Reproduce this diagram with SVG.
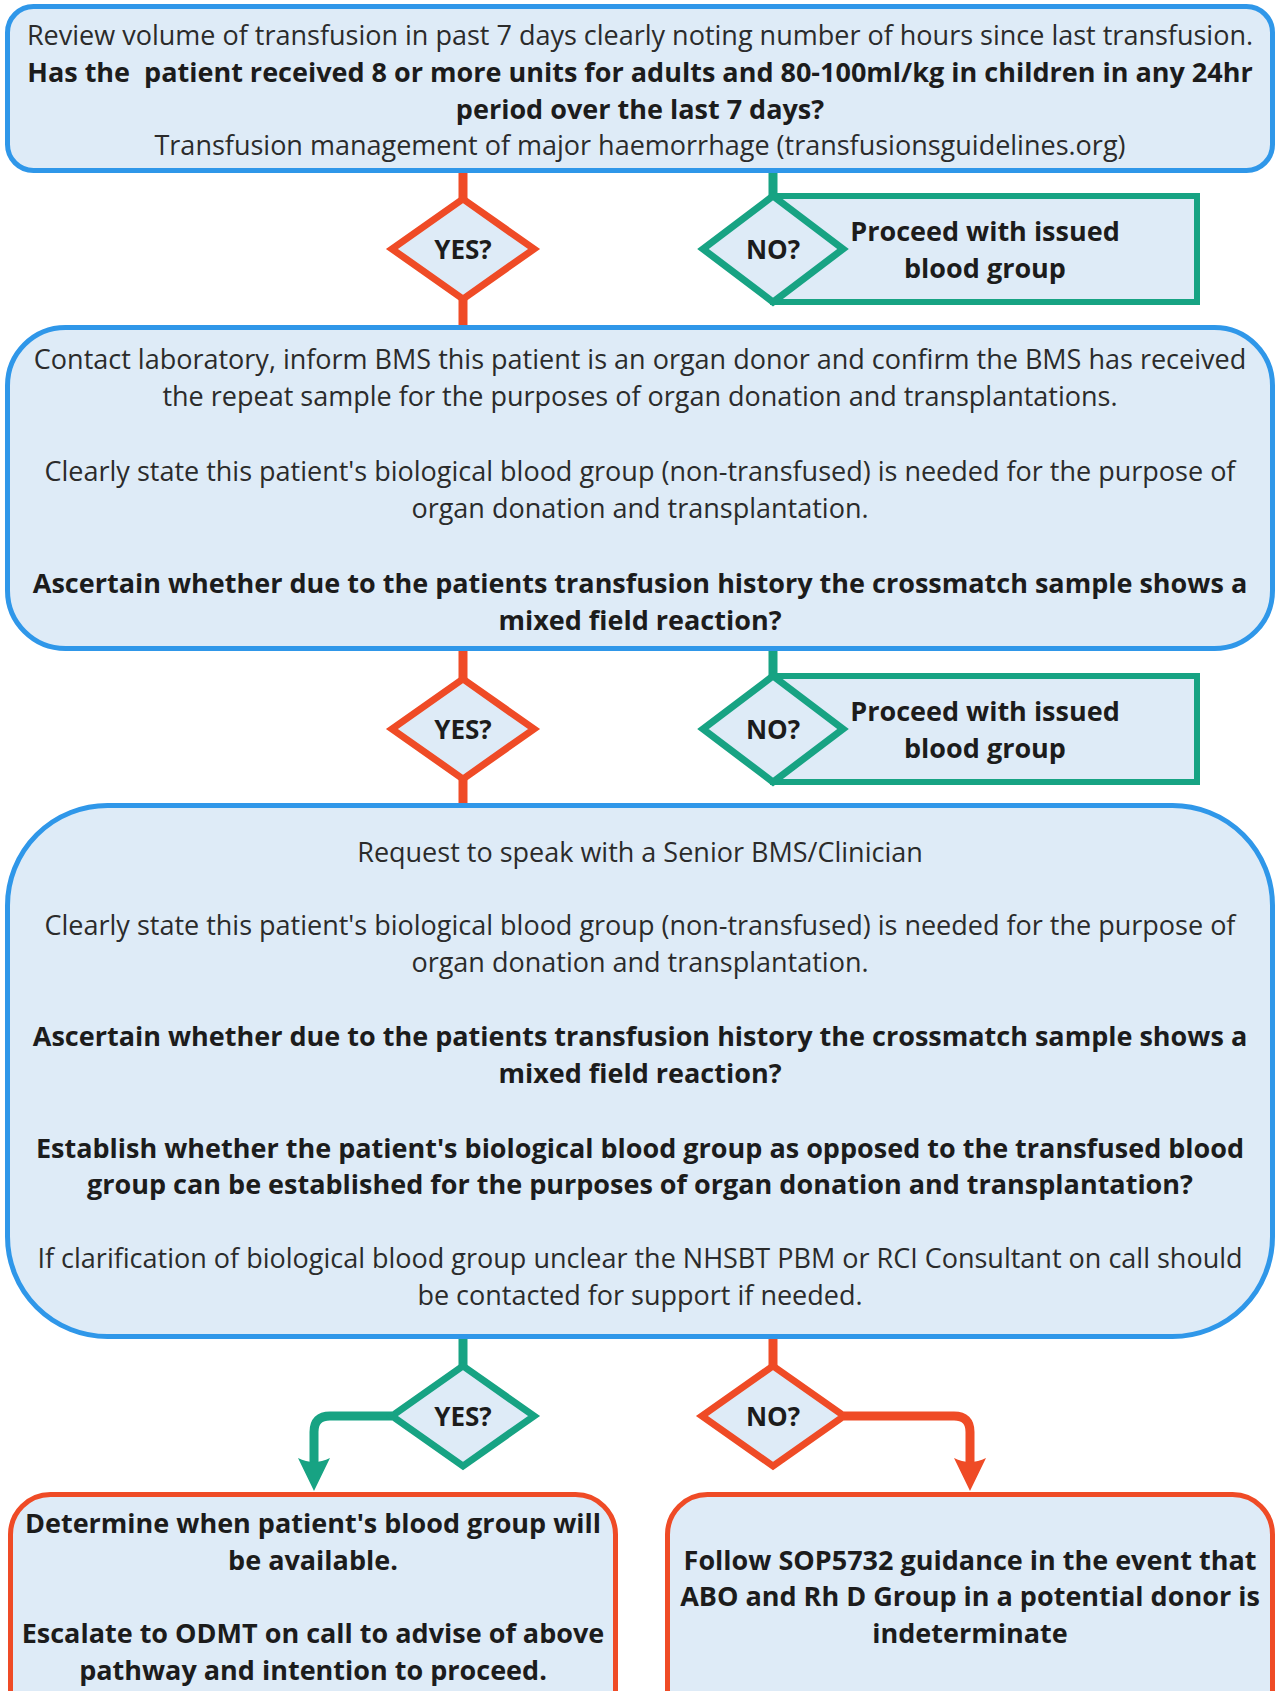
<svg xmlns="http://www.w3.org/2000/svg" width="1277" height="1691" viewBox="0 0 1277 1691">
<style>
.box{fill:#deebf7;stroke:#2f97e9;stroke-width:5}
.rbox{fill:#deebf7;stroke:#ef4b26;stroke-width:5}
.gbox{fill:#deebf7;stroke:#17a383;stroke-width:6}
.rd{fill:#deebf7;stroke:#ef4b26;stroke-width:7;stroke-linejoin:miter}
.gd{fill:#deebf7;stroke:#17a383;stroke-width:7;stroke-linejoin:miter}
.rl{stroke:#ef4b26;stroke-width:9;fill:none}
.gl{stroke:#17a383;stroke-width:9;fill:none}
.ra{fill:#ef4b26}
.ga{fill:#17a383}
text{font-family:"Open Sans","Noto Sans","DejaVu Sans",sans-serif;font-size:27px;fill:#2b2b2b;text-anchor:middle}
.b{font-weight:bold;fill:#1c1c1c}
.d{font-size:26px}
</style>
<g id="connectors">
<line class="rl" x1="463" y1="172" x2="463" y2="200"/>
<line class="gl" x1="773" y1="172" x2="773" y2="198"/>
<line class="rl" x1="463" y1="298" x2="463" y2="327"/>
<line class="rl" x1="463" y1="650" x2="463" y2="680"/>
<line class="gl" x1="773" y1="650" x2="773" y2="678"/>
<line class="rl" x1="463" y1="778" x2="463" y2="806"/>
<line class="gl" x1="463" y1="1337" x2="463" y2="1366"/>
<line class="rl" x1="773" y1="1337" x2="773" y2="1366"/>
<path class="gl" d="M392 1416 H330 Q314 1416 314 1432 V1468" stroke-width="8"/>
<path class="ga" d="M314 1491 L298 1458 Q314 1466 330 1458 Z"/>
<path class="rl" d="M844 1416 H954 Q970 1416 970 1432 V1468" stroke-width="8"/>
<path class="ra" d="M970 1491 L954 1458 Q970 1466 986 1458 Z"/>
</g>
<g id="box1">
<rect class="box" x="7.5" y="6.5" width="1265" height="164" rx="26"/>
<text x="640" y="45">Review volume of transfusion in past 7 days clearly noting number of hours since last transfusion.</text>
<text class="b" x="640" y="82" xml:space="preserve">Has the  patient received 8 or more units for adults and 80-100ml/kg in children in any 24hr</text>
<text class="b" x="640" y="119">period over the last 7 days?</text>
<text x="640" y="155">Transfusion management of major haemorrhage (transfusionsguidelines.org)</text>
</g>
<g id="yes1">
<path class="rd" d="M463 199 L534 249 L463 299 L392 249 Z"/>
<text class="b d" x="463" y="259">YES?</text>
</g>
<g id="no1">
<rect class="gbox" x="773" y="196" width="424" height="106"/>
<path class="gd" d="M773 196 L843 249 L773 302 L703 249 Z"/>
<text class="b d" x="773" y="259">NO?</text>
<text class="b" x="985" y="241">Proceed with issued</text>
<text class="b" x="985" y="278">blood group</text>
</g>
<g id="box2">
<rect class="box" x="7.5" y="327.5" width="1265" height="321" rx="58"/>
<text x="640" y="369">Contact laboratory, inform BMS this patient is an organ donor and confirm the BMS has received</text>
<text x="640" y="406">the repeat sample for the purposes of organ donation and transplantations.</text>
<text x="640" y="481">Clearly state this patient's biological blood group (non-transfused) is needed for the purpose of</text>
<text x="640" y="518">organ donation and transplantation.</text>
<text class="b" x="640" y="593">Ascertain whether due to the patients transfusion history the crossmatch sample shows a</text>
<text class="b" x="640" y="630">mixed field reaction?</text>
</g>
<g id="yes2">
<path class="rd" d="M463 679 L534 729 L463 779 L392 729 Z"/>
<text class="b d" x="463" y="739">YES?</text>
</g>
<g id="no2">
<rect class="gbox" x="773" y="676" width="424" height="106"/>
<path class="gd" d="M773 676 L843 729 L773 782 L703 729 Z"/>
<text class="b d" x="773" y="739">NO?</text>
<text class="b" x="985" y="721">Proceed with issued</text>
<text class="b" x="985" y="758">blood group</text>
</g>
<g id="box3">
<rect class="box" x="7.5" y="805.5" width="1265" height="531" rx="100"/>
<text x="640" y="862">Request to speak with a Senior BMS/Clinician</text>
<text x="640" y="935">Clearly state this patient's biological blood group (non-transfused) is needed for the purpose of</text>
<text x="640" y="972">organ donation and transplantation.</text>
<text class="b" x="640" y="1046">Ascertain whether due to the patients transfusion history the crossmatch sample shows a</text>
<text class="b" x="640" y="1083">mixed field reaction?</text>
<text class="b" x="640" y="1158">Establish whether the patient's biological blood group as opposed to the transfused blood</text>
<text class="b" x="640" y="1194">group can be established for the purposes of organ donation and transplantation?</text>
<text x="640" y="1268">If clarification of biological blood group unclear the NHSBT PBM or RCI Consultant on call should</text>
<text x="640" y="1305">be contacted for support if needed.</text>
</g>
<g id="yes3">
<path class="gd" d="M463 1366 L534 1416 L463 1466 L392 1416 Z"/>
<text class="b d" x="463" y="1426">YES?</text>
</g>
<g id="no3">
<path class="rd" d="M773 1366 L844 1416 L773 1466 L702 1416 Z"/>
<text class="b d" x="773" y="1426">NO?</text>
</g>
<g id="yesbox">
<rect class="rbox" x="10.5" y="1494.5" width="605" height="240" rx="40"/>
<text class="b" x="313" y="1533">Determine when patient's blood group will</text>
<text class="b" x="313" y="1570">be available.</text>
<text class="b" x="313" y="1643">Escalate to ODMT on call to advise of above</text>
<text class="b" x="313" y="1680">pathway and intention to proceed.</text>
</g>
<g id="nobox">
<rect class="rbox" x="667.5" y="1494.5" width="605" height="240" rx="40"/>
<text class="b" x="970" y="1570">Follow SOP5732 guidance in the event that</text>
<text class="b" x="970" y="1606">ABO and Rh D Group in a potential donor is</text>
<text class="b" x="970" y="1643">indeterminate</text>
</g>
</svg>
